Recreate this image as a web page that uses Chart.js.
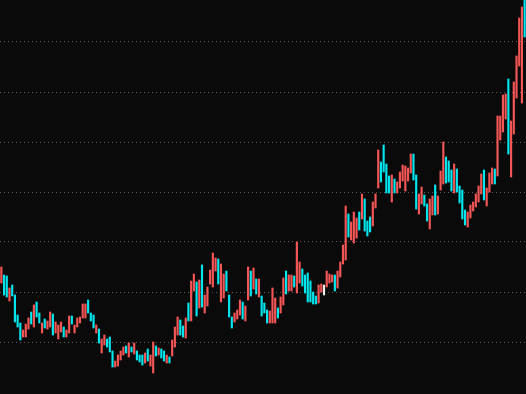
<!DOCTYPE html>
<html>
<head>
<meta charset="utf-8">
<script src="https://cdn.jsdelivr.net/npm/chart.js@4"></script>
<style>
  html, body { margin: 0; padding: 0; background: #0a0a0a; }
  #grafico { display: block; background: #0a0a0a; }
</style>
</head>
<body>
<canvas id="grafico" width="526" height="394"></canvas>
<script>
// daily high / low
var highs = [175,167,166,154,157,147,127,119,112,118,124,130,137,140,129,119,123,121,130,128,120,117,120,115,112,126,126,117,124,125,138,138,142,
	129,127,117,113,103,107,103,105,91,81,87,91,95,96,99,95,99,91,87,87,89,93,87,100,96,94,93,91,87,85,102,115,125,
	122,116,124,139,161,168,160,162,177,147,155,172,189,184,183,178,168,171,147,125,129,132,142,140,136,175,171,174,163,163,146,139,132,
	131,154,144,134,145,164,171,167,167,166,200,180,173,167,169,161,150,146,157,158,157,171,168,167,167,171,180,197,236,228,220,230,224,
	230,248,243,221,225,240,248,292,280,297,278,266,267,263,260,270,277,276,274,288,288,267,248,255,247,238,243,246,257,246,271,300,285,281,
	272,278,273,256,252,232,230,237,240,248,256,268,272,254,269,274,273,326,326,347,348,363,321,360,386,424,435,446];

var lows = [159,147,145,141,146,120,115,102,105,105,113,118,115,125,119,109,114,113,115,107,109,103,110,105,105,109,118,109,115,119,124,124,129,
	121,114,109,99,89,97,95,90,75,75,76,82,87,89,85,90,88,82,80,77,79,81,76,69,86,87,84,81,79,79,86,95,107,
	107,105,104,121,121,151,126,134,135,129,136,158,155,171,158,140,144,151,125,114,120,123,127,123,121,142,146,153,148,145,126,129,119,
	119,119,119,124,129,137,148,151,151,155,149,159,156,149,140,140,138,138,139,150,147,155,159,160,151,154,165,178,182,205,202,199,204,
	212,223,211,206,210,216,234,254,260,270,249,249,240,249,249,254,261,251,261,269,262,233,228,238,236,221,213,227,227,228,252,258,259,260,
	251,249,250,239,223,217,215,224,231,235,240,248,242,236,250,258,258,266,302,310,323,288,265,308,344,376,339,405];

// 1 = up (red), -1 = down (cyan), 0 = flat (white)
var dirs = [1,-1,-1,1,-1,-1,-1,-1,1,1,1,-1,1,-1,-1,1,-1,1,1,-1,1,1,1,-1,1,1,-1,1,1,1,1,1,-1,
	-1,-1,1,-1,1,1,-1,-1,-1,1,1,1,1,-1,1,-1,1,-1,-1,-1,1,-1,1,1,-1,1,-1,-1,1,-1,1,1,1,
	-1,-1,1,-1,1,1,-1,1,-1,1,1,1,1,1,-1,1,1,-1,-1,-1,1,1,1,-1,1,1,-1,1,-1,1,-1,-1,-1,
	1,1,1,-1,1,1,-1,1,1,-1,1,1,-1,-1,-1,-1,-1,-1,1,1,0,1,1,1,-1,1,1,1,1,-1,1,1,1,
	-1,1,-1,-1,-1,1,1,1,-1,-1,-1,-1,1,-1,1,1,1,1,1,1,-1,-1,1,1,-1,-1,1,1,-1,1,1,1,-1,-1,
	-1,1,-1,-1,-1,-1,1,1,1,1,1,1,-1,1,1,1,-1,1,1,1,1,-1,1,1,1,1,1,-1];

var labels = highs.map(function (v, i) { return i + 1; });

var canvas = document.getElementById('grafico');

var grafico = new Chart(canvas, {
	type: 'bar',
	data: {
		labels: labels,
		datasets: [{
			data: highs.map(function (h, i) { return [lows[i], h]; }),
			backgroundColor: dirs.map(function (d) {
				return d > 0 ? '#f45656' : (d < 0 ? '#00e6ee' : '#f0f0f0');
			}),
			borderWidth: 0,
			barThickness: 1.5,
			borderSkipped: false
		}]
	},
	options: {
		responsive: false,
		animation: false,
		layout: { padding: 0 },
		plugins: {
			legend: { display: false },
			tooltip: { enabled: false }
		},
		scales: {
			x: {
				display: false
			},
			y: {
				min: 48,
				max: 442,
				ticks: { display: false, stepSize: 50 },
				afterBuildTicks: function (scale) {
					scale.ticks = scale.ticks.filter(function (t) { return t.value % 50 === 0; });
				},
				grid: {
					color: '#5c5c5c',
					lineWidth: 1,
					drawTicks: false
				},
				border: { display: false, dash: [1, 3] }
			}
		}
	}
});
</script>
</body>
</html>
